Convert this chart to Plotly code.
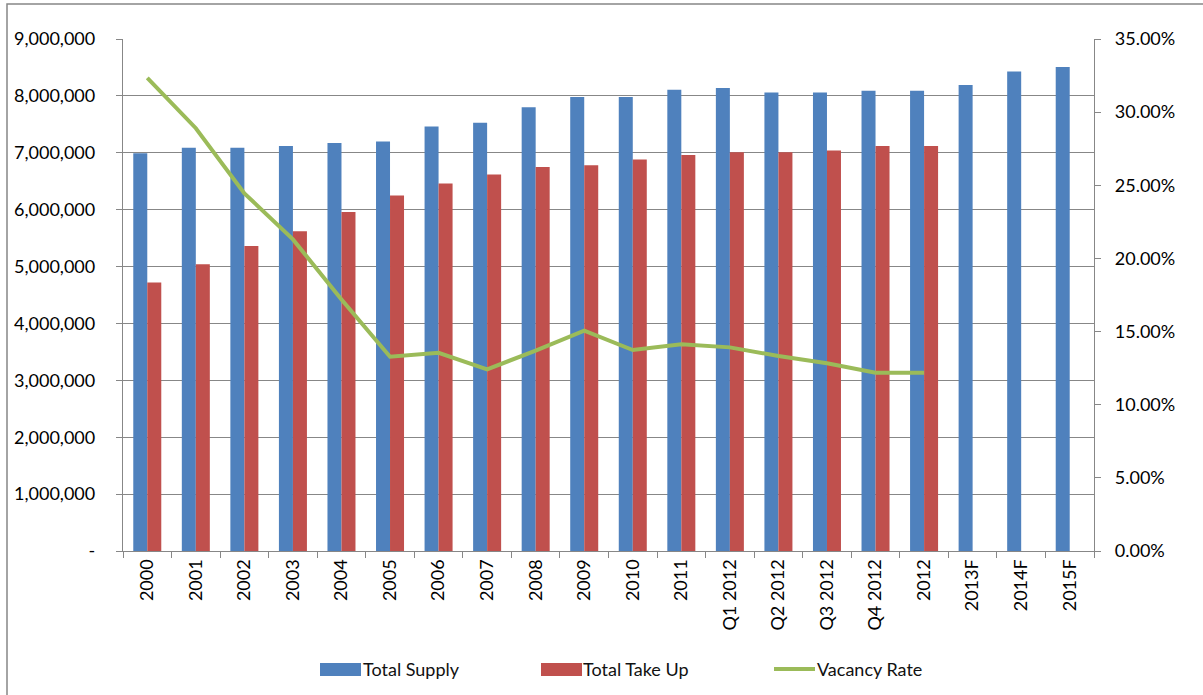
import plotly.graph_objects as go

# ---- data -------------------------------------------------------------
periods = ["2000", "2001", "2002", "2003", "2004", "2005", "2006", "2007",
           "2008", "2009", "2010", "2011", "Q1 2012", "Q2 2012", "Q3 2012",
           "Q4 2012", "2012", "2013F", "2014F", "2015F"]

total_supply = [6990000, 7090000, 7090000, 7120000, 7170000, 7200000,
                7460000, 7530000, 7800000, 7980000, 7980000, 8110000,
                8140000, 8060000, 8060000, 8090000, 8090000, 8190000,
                8430000, 8510000]

total_take_up = [4720000, 5040000, 5360000, 5620000, 5960000, 6250000,
                 6460000, 6620000, 6750000, 6780000, 6880000, 6960000,
                 7010000, 7010000, 7040000, 7120000, 7120000, None,
                 None, None]

vacancy_rate = [0.3235, 0.2890, 0.2445, 0.2130, 0.1720, 0.1328, 0.1355,
                0.1242, 0.1370, 0.1506, 0.1374, 0.1413, 0.1392, 0.1333,
                0.1283, 0.1219, 0.1219, None, None, None]

left_tickvals = [0, 1000000, 2000000, 3000000, 4000000, 5000000, 6000000,
                 7000000, 8000000, 9000000]
left_ticktext = ["-", "1,000,000", "2,000,000", "3,000,000", "4,000,000",
                 "5,000,000", "6,000,000", "7,000,000", "8,000,000",
                 "9,000,000"]

# ---- styling ----------------------------------------------------------
BLUE = "#4F81BD"
RED = "#C0504D"
GREEN = "#9BBB59"
GREY = "#878787"
FONT = "Lato"

W, H = 1203, 695
L, R, T, B = 123, 109, 39, 144
plot_w = W - L - R
plot_h = H - T - B


def px_x(px):
    """Pixel column -> paper x."""
    return (px - L) / plot_w


def px_y(py):
    """Pixel row -> paper y."""
    return (H - B - py) / plot_h


fig = go.Figure()

fig.add_trace(go.Bar(name="Total Supply", x=periods, y=total_supply,
                     marker=dict(color=BLUE, line=dict(width=0)),
                     showlegend=False))
fig.add_trace(go.Bar(name="Total Take Up", x=periods, y=total_take_up,
                     marker=dict(color=RED, line=dict(width=0)),
                     showlegend=False))
fig.add_trace(go.Scatter(name="Vacancy Rate", x=periods, y=vacancy_rate,
                         mode="lines", yaxis="y2",
                         line=dict(color=GREEN, width=4),
                         connectgaps=False, showlegend=False))

fig.update_layout(
    width=W, height=H, autosize=False,
    margin=dict(l=L, r=R, t=T, b=B, pad=0),
    paper_bgcolor="white", plot_bgcolor="white",
    font=dict(family=FONT, size=18, color="#000000"),
    barmode="group", bargap=0.423, bargroupgap=0,
    xaxis=dict(type="category", tickangle=-90, ticks="outside",
               tickson="boundaries", ticklen=6, tickcolor=GREY,
               showline=True, linecolor=GREY, linewidth=1.3,
               showgrid=False, tickfont=dict(family=FONT, size=18)),
    yaxis=dict(range=[0, 9000000], tickvals=left_tickvals,
               ticktext=left_ticktext, showgrid=True, gridcolor=GREY,
               gridwidth=1, showline=True, linecolor=GREY, linewidth=1.3,
               ticks="outside", ticklen=6, tickcolor=GREY,
               ticklabelstandoff=17, zeroline=False,
               tickfont=dict(family=FONT, size=18)),
    yaxis2=dict(range=[0, 0.35], overlaying="y", side="right",
                tickformat=".2%", dtick=0.05, tick0=0, showgrid=False,
                showline=True, linecolor=GREY, linewidth=1.3,
                ticks="outside", ticklen=6, tickcolor=GREY,
                ticklabelstandoff=10, zeroline=False,
                tickfont=dict(family=FONT, size=18)),
)

# chart frame
fig.add_shape(type="rect", xref="paper", yref="paper",
              x0=px_x(7), x1=px_x(1215), y0=px_y(710), y1=px_y(4),
              line=dict(color=GREY, width=1.5), fillcolor="rgba(0,0,0,0)",
              layer="below")

# legend
legend_y = 669
fig.add_shape(type="rect", xref="paper", yref="paper",
              x0=px_x(320), x1=px_x(361), y0=px_y(676), y1=px_y(663),
              line=dict(width=0), fillcolor=BLUE)
fig.add_shape(type="rect", xref="paper", yref="paper",
              x0=px_x(541), x1=px_x(582), y0=px_y(676), y1=px_y(663),
              line=dict(width=0), fillcolor=RED)
fig.add_shape(type="line", xref="paper", yref="paper",
              x0=px_x(774), x1=px_x(815), y0=px_y(legend_y), y1=px_y(legend_y),
              line=dict(color=GREEN, width=4))

for label, left in [("Total Supply", 361), ("Total Take Up", 581),
                    ("Vacancy Rate", 815)]:
    fig.add_annotation(text=label, xref="paper", yref="paper",
                       x=px_x(left), y=px_y(legend_y), xanchor="left",
                       yanchor="middle", showarrow=False,
                       font=dict(family=FONT, size=18, color="#111111"))

fig.write_html("out.html")
